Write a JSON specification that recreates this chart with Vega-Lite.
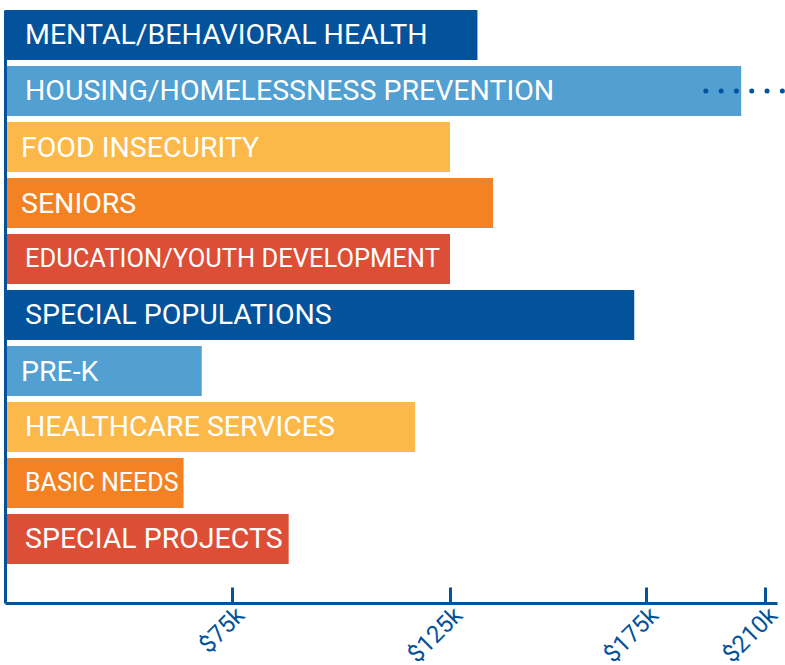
{
  "$schema": "https://vega.github.io/schema/vega-lite/v6.json",
  "width": 772,
  "height": 593,
  "autosize": {"type": "none"},
  "padding": {"left": 5, "top": 10, "right": 8, "bottom": 62},
  "background": "white",
  "config": {"view": {"stroke": null}},
  "datasets": {
    "bars": [
      {"cat": "MENTAL/BEHAVIORAL HEALTH", "amount": 132},
      {"cat": "HOUSING/HOMELESSNESS PREVENTION", "amount": 203},
      {"cat": "FOOD INSECURITY", "amount": 125},
      {"cat": "SENIORS", "amount": 136},
      {"cat": "EDUCATION/YOUTH DEVELOPMENT", "amount": 125},
      {"cat": "SPECIAL POPULATIONS", "amount": 172},
      {"cat": "PRE-K", "amount": 65},
      {"cat": "HEALTHCARE SERVICES", "amount": 117},
      {"cat": "BASIC NEEDS", "amount": 59},
      {"cat": "SPECIAL PROJECTS", "amount": 88}
    ],
    "dots": [
      {"cat": "HOUSING/HOMELESSNESS PREVENTION", "from": 192.6, "to": 216}
    ]
  },
  "encoding": {
    "y": {
      "field": "cat",
      "type": "nominal",
      "sort": null,
      "scale": {
        "domain": ["MENTAL/BEHAVIORAL HEALTH", "HOUSING/HOMELESSNESS PREVENTION", "FOOD INSECURITY", "SENIORS", "EDUCATION/YOUTH DEVELOPMENT", "SPECIAL POPULATIONS", "PRE-K", "HEALTHCARE SERVICES", "BASIC NEEDS", "SPECIAL PROJECTS"],
        "paddingInner": 0.107,
        "paddingOuter": 0.348,
        "align": 0
      },
      "axis": {"title": null, "labels": false, "ticks": false, "domainColor": "#03529C", "domainWidth": 3, "zindex": 1, "grid": false}
    }
  },
  "layer": [
    {
      "data": {"name": "bars"},
      "mark": {"type": "bar"},
      "encoding": {
        "x": {
          "field": "amount",
          "type": "quantitative",
          "scale": {"domain": [0, 75, 125, 175, 210, 213.5], "range": [0, 227, 445, 641, 760, 772], "zero": false, "nice": false},
          "axis": {
            "title": null,
            "values": [75, 125, 175, 210],
            "labelExpr": "'$' + datum.value + 'k'",
            "grid": false,
            "domainColor": "#03529C",
            "domainWidth": 3,
            "tickColor": "#03529C",
            "tickWidth": 3,
            "tickSize": -16,
            "labelAngle": -45,
            "labelFont": "Roboto",
            "labelFontSize": 24,
            "labelColor": "#03529C",
            "labelPadding": 16,
            "labelOverlap": false,
            "zindex": 1
          }
        },
        "color": {
          "field": "cat",
          "type": "nominal",
          "legend": null,
          "scale": {
            "domain": ["MENTAL/BEHAVIORAL HEALTH", "HOUSING/HOMELESSNESS PREVENTION", "FOOD INSECURITY", "SENIORS", "EDUCATION/YOUTH DEVELOPMENT", "SPECIAL POPULATIONS", "PRE-K", "HEALTHCARE SERVICES", "BASIC NEEDS", "SPECIAL PROJECTS"],
            "range": ["#03529C", "#529FD2", "#FCB848", "#F48222", "#DC4E36", "#03529C", "#529FD2", "#FCB848", "#F48222", "#DC4E36"]
          }
        }
      }
    },
    {
      "data": {"name": "bars"},
      "transform": [{"filter": "indexof(['FOOD INSECURITY', 'SENIORS', 'PRE-K'], datum.cat) < 0"}],
      "mark": {"type": "text", "align": "left", "baseline": "middle", "dx": 20, "dy": 0, "font": "Roboto", "color": "white"},
      "encoding": {
        "x": {"datum": 0, "type": "quantitative"},
        "text": {"field": "cat"},
        "size": {
          "condition": [
            {"test": "datum.cat === 'BASIC NEEDS'", "value": 25},
            {"test": "datum.cat === 'EDUCATION/YOUTH DEVELOPMENT'", "value": 25.5}
          ],
          "value": 28.5
        }
      }
    },
    {
      "data": {"name": "bars"},
      "transform": [{"filter": "indexof(['FOOD INSECURITY', 'SENIORS', 'PRE-K'], datum.cat) >= 0"}],
      "mark": {"type": "text", "align": "left", "baseline": "middle", "dx": 16, "dy": 1, "font": "Roboto", "color": "white", "fontSize": 28.5},
      "encoding": {
        "x": {"datum": 0, "type": "quantitative"},
        "text": {"field": "cat"}
      }
    },
    {
      "data": {"name": "dots"},
      "mark": {"type": "rule", "color": "#03529C", "strokeWidth": 5, "strokeCap": "round", "strokeDash": [0, 15.3], "clip": false},
      "encoding": {
        "x": {"field": "from", "type": "quantitative"},
        "x2": {"field": "to"}
      }
    }
  ]
}
